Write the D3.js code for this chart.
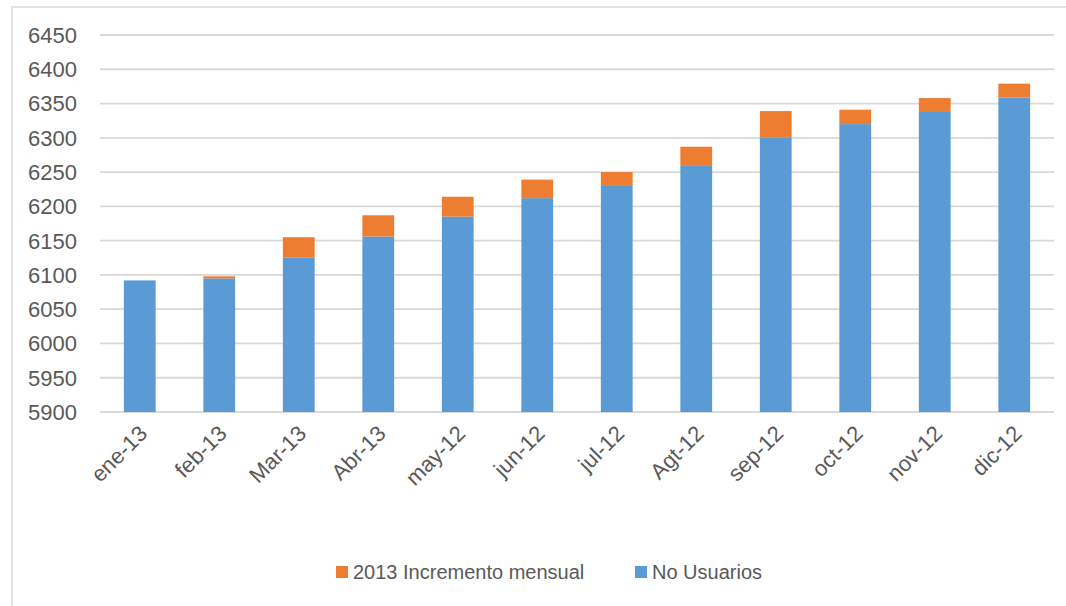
<!DOCTYPE html>
<html>

<head>
  <meta charset="UTF-8">
  <style>
    body { margin: 0; background: #fff; }
    text { font-family: "Liberation Sans", Arial, sans-serif; fill: #595959; }
  </style>
</head>

<body>
  <svg></svg>
  <script src="https://d3js.org/d3.v7.min.js"></script>

  <script>

    let width = 1066, height = 606;

    // data
    let months = ["ene-13", "feb-13", "Mar-13", "Abr-13", "may-12", "jun-12",
      "jul-12", "Agt-12", "sep-12", "oct-12", "nov-12", "dic-12"];
    let usuarios = [6092, 6095, 6125, 6156, 6185, 6212, 6231, 6259, 6300, 6320, 6339, 6359];
    let incremento = [0, 3, 30, 31, 29, 27, 19, 28, 39, 21, 19, 20];
    let yTicks = [5900, 5950, 6000, 6050, 6100, 6150, 6200, 6250, 6300, 6350, 6400, 6450];
    let seriesNames = ["2013 Incremento mensual", "No Usuarios"];
    let seriesColors = ["#ed7d31", "#5b9bd5"];

    let svg = d3.select("svg")
      .attr("width", width)
      .attr("height", height);

    // chart frame (only top/left show in the crop)
    svg.append("rect")
      .attr("x", 12).attr("y", 7)
      .attr("width", 1080).attr("height", 620)
      .attr("fill", "none")
      .attr("stroke", "#d9d9d9")
      .attr("stroke-width", 1.5);

    let margin = { left: 100, right: 12, top: 35, bottom: 194 };

    let x = d3.scaleBand()
      .domain(months)
      .range([margin.left, width - margin.right])
      .paddingInner(0.6)
      .paddingOuter(0.3);

    let y = d3.scaleLinear()
      .domain([5900, 6450])
      .range([height - margin.bottom, margin.top]);

    // gridlines
    svg.append("g")
      .selectAll("line")
      .data(yTicks)
      .enter()
      .append("line")
      .attr("x1", margin.left)
      .attr("x2", width - margin.right)
      .attr("y1", d => y(d))
      .attr("y2", d => y(d))
      .attr("stroke", "#d9d9d9")
      .attr("stroke-width", 1.8);

    // y labels
    svg.append("g")
      .selectAll("text")
      .data(yTicks)
      .enter()
      .append("text")
      .attr("x", 77)
      .attr("y", d => y(d))
      .attr("dy", "0.36em")
      .attr("text-anchor", "end")
      .style("font-size", "22px")
      .text(d => d);

    // stacked bars
    let rows = months.map((m, i) => ({ month: m, usuarios: usuarios[i], incremento: incremento[i] }));

    svg.append("g")
      .selectAll("rect")
      .data(rows)
      .enter()
      .append("rect")
      .attr("x", d => x(d.month))
      .attr("width", x.bandwidth())
      .attr("y", d => y(d.usuarios))
      .attr("height", d => y(5900) - y(d.usuarios))
      .attr("fill", seriesColors[1]);

    svg.append("g")
      .selectAll("rect")
      .data(rows)
      .enter()
      .append("rect")
      .attr("x", d => x(d.month))
      .attr("width", x.bandwidth())
      .attr("y", d => y(d.usuarios + d.incremento))
      .attr("height", d => y(d.usuarios) - y(d.usuarios + d.incremento))
      .attr("fill", seriesColors[0]);

    // x labels, rotated
    svg.append("g")
      .selectAll("text")
      .data(months)
      .enter()
      .append("text")
      .attr("transform", d => "translate(" + (x(d) + x.bandwidth() / 2 - 2) + "," + (y(5900) + 12) + ") rotate(-45)")
      .attr("text-anchor", "end")
      .attr("dy", "0.7em")
      .style("font-size", "22px")
      .text(d => d);

    // legend
    let legendX = [336, 635];
    let legend = svg.append("g")
      .selectAll("g")
      .data(seriesNames)
      .enter()
      .append("g")
      .attr("transform", (d, i) => "translate(" + legendX[i] + ",566)");

    legend.append("rect")
      .attr("width", 12).attr("height", 12)
      .attr("fill", (d, i) => seriesColors[i]);

    legend.append("text")
      .attr("x", 17)
      .attr("y", 6)
      .attr("dy", "0.36em")
      .style("font-size", "20px")
      .text(d => d);

  </script>

</body>

</html>
